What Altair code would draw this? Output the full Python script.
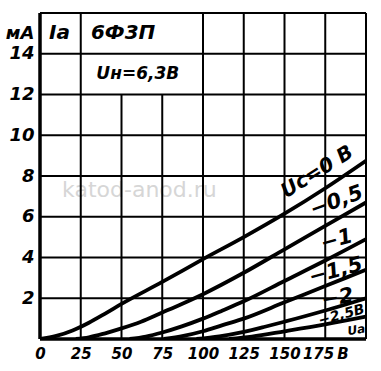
import altair as alt
import pandas as pd

# ---- data ----
curve_names = ["0", "-0.5", "-1", "-1.5", "-2", "-2.5"]
ua_0 = [0, 10, 20, 30, 40, 50, 75, 100, 125, 150, 175, 200]
ia_0 = [0, 0.15, 0.42, 0.8, 1.25, 1.72, 2.8, 3.92, 5.0, 6.15, 7.4, 8.75]
ua_05 = [22, 30, 40, 50, 62, 75, 87, 100, 125, 150, 175, 200]
ia_05 = [0, 0.08, 0.28, 0.52, 0.85, 1.3, 1.72, 2.2, 3.25, 4.4, 5.55, 6.7]
ua_1 = [55, 65, 75, 87, 100, 112, 125, 150, 175, 200]
ia_1 = [0, 0.12, 0.32, 0.62, 1.0, 1.4, 1.85, 2.85, 3.85, 4.9]
ua_15 = [76, 88, 100, 112, 125, 150, 175, 200]
ia_15 = [0, 0.15, 0.38, 0.68, 1.0, 1.8, 2.6, 3.4]
ua_2 = [96, 110, 125, 138, 150, 175, 200]
ia_2 = [0, 0.13, 0.35, 0.6, 0.85, 1.4, 2.0]
ua_25 = [116, 130, 150, 175, 200]
ia_25 = [0, 0.12, 0.38, 0.72, 1.1]

x_ticks = [0, 25, 50, 75, 100, 125, 150, 175]
y_ticks = [2, 4, 6, 8, 10, 12, 14, 15]
h_grid = [2, 4, 6, 8, 10, 12, 14]
v_grid_full = [25, 100, 125, 150, 175]
v_grid_short = [50, 75]

label_text = ["Iа", "6Ф3П", "Uн=6,3В", "Uс=0 В", "−0,5", "−1", "−1,5", "−2", "−2,5В", "Uа"]
label_x = [12, 51, 60, 170, 182, 182, 181.5, 182.5, 185, 194]
label_y = [15, 15, 13.0, 8.2, 6.75, 4.85, 3.33, 2.0, 1.17, 0.45]
label_angle = [0, 0, 0, 328, 340, 345, 345, 350, 345, 350]
label_size = [20, 20, 17, 20, 21, 21, 21, 21, 14, 12]

# ---- tables ----
rows = []
for name, ua, ia in zip(curve_names,
                        [ua_0, ua_05, ua_1, ua_15, ua_2, ua_25],
                        [ia_0, ia_05, ia_1, ia_15, ia_2, ia_25]):
    for u, i in zip(ua, ia):
        rows.append({"uc": name, "ua": u, "ia": i})
curves = pd.DataFrame(rows)

hg = pd.DataFrame({"x": 0, "x2": 200, "y": h_grid})
vg = pd.DataFrame({"x": v_grid_full + v_grid_short,
                   "y": 0,
                   "y2": [16] * len(v_grid_full) + [12] * len(v_grid_short)})
border_thin = pd.DataFrame({"x": [0, 200], "x2": [200, 200], "y": [16, 0], "y2": [16, 16]})
border_thick = pd.DataFrame({"x": [0, 0], "x2": [200, 0], "y": [0, 0], "y2": [0, 16]})
labels = pd.DataFrame({"t": label_text, "x": label_x, "y": label_y,
                       "a": label_angle, "s": label_size})
wm = pd.DataFrame({"t": ["katod-anod.ru"], "x": [61], "y": [7.3]})

FONT = "DejaVu Sans"
xs = alt.Scale(domain=[0, 200], nice=False, zero=False)
ys = alt.Scale(domain=[0, 16], nice=False, zero=False)

x_axis = alt.Axis(values=x_ticks, grid=False, domain=False, ticks=False,
                  labelExpr="datum.value == 175 ? '175\u2009В' : datum.label",
                  labelFont=FONT, labelFontSize=15, labelFontStyle="italic",
                  labelFontWeight="bold", labelColor="black", labelPadding=7,
                  labelFlush=False, labelOverlap=False, labelBound=False, title=None)
y_axis = alt.Axis(values=y_ticks, grid=False, domain=False, ticks=False,
                  labelExpr="datum.value == 15 ? 'мА' : datum.label",
                  labelFont=FONT, labelFontSize=18, labelFontStyle="italic",
                  labelFontWeight="bold", labelColor="black", labelPadding=6,
                  labelFlush=False, labelOverlap=False, title=None)

base_axes = alt.Chart(curves).mark_point(opacity=0).encode(
    x=alt.X("ua:Q", scale=xs, axis=x_axis),
    y=alt.Y("ia:Q", scale=ys, axis=y_axis),
)

hlines = alt.Chart(hg).mark_rule(color="black", strokeWidth=2).encode(
    x=alt.X("x:Q", scale=xs), x2="x2:Q", y=alt.Y("y:Q", scale=ys))
vlines = alt.Chart(vg).mark_rule(color="black", strokeWidth=2).encode(
    x=alt.X("x:Q", scale=xs), y=alt.Y("y:Q", scale=ys), y2="y2:Q")
thin = alt.Chart(border_thin).mark_rule(color="black", strokeWidth=2).encode(
    x=alt.X("x:Q", scale=xs), x2="x2:Q", y=alt.Y("y:Q", scale=ys), y2="y2:Q")
thick = alt.Chart(border_thick).mark_rule(color="black", strokeWidth=3.5).encode(
    x=alt.X("x:Q", scale=xs), x2="x2:Q", y=alt.Y("y:Q", scale=ys), y2="y2:Q")

watermark = alt.Chart(wm).mark_text(font="DejaVu Sans", fontSize=22, color="#d6d6d6").encode(
    x=alt.X("x:Q", scale=xs), y=alt.Y("y:Q", scale=ys), text="t:N")

lines = alt.Chart(curves).mark_line(color="black", strokeWidth=3.8,
                                    interpolate="monotone", clip=True).encode(
    x=alt.X("ua:Q", scale=xs), y=alt.Y("ia:Q", scale=ys), detail="uc:N",
    order="ua:Q")

texts = alt.Chart(labels).mark_text(font=FONT, fontStyle="italic", fontWeight="bold",
                                    color="black").encode(
    x=alt.X("x:Q", scale=xs), y=alt.Y("y:Q", scale=ys), text="t:N",
    angle=alt.Angle("a:Q", scale=None), size=alt.Size("s:Q", scale=None))

chart = alt.layer(base_axes, watermark, hlines, vlines, thin, thick, lines, texts).properties(
    width=326, height=326,
    padding={"left": 40, "top": 13, "right": 15, "bottom": 32},
    autosize=alt.AutoSizeParams(type="none"),
    background="white",
).configure_view(stroke=None)

chart.save("out.html", embed_options={"renderer": "svg", "actions": False})
